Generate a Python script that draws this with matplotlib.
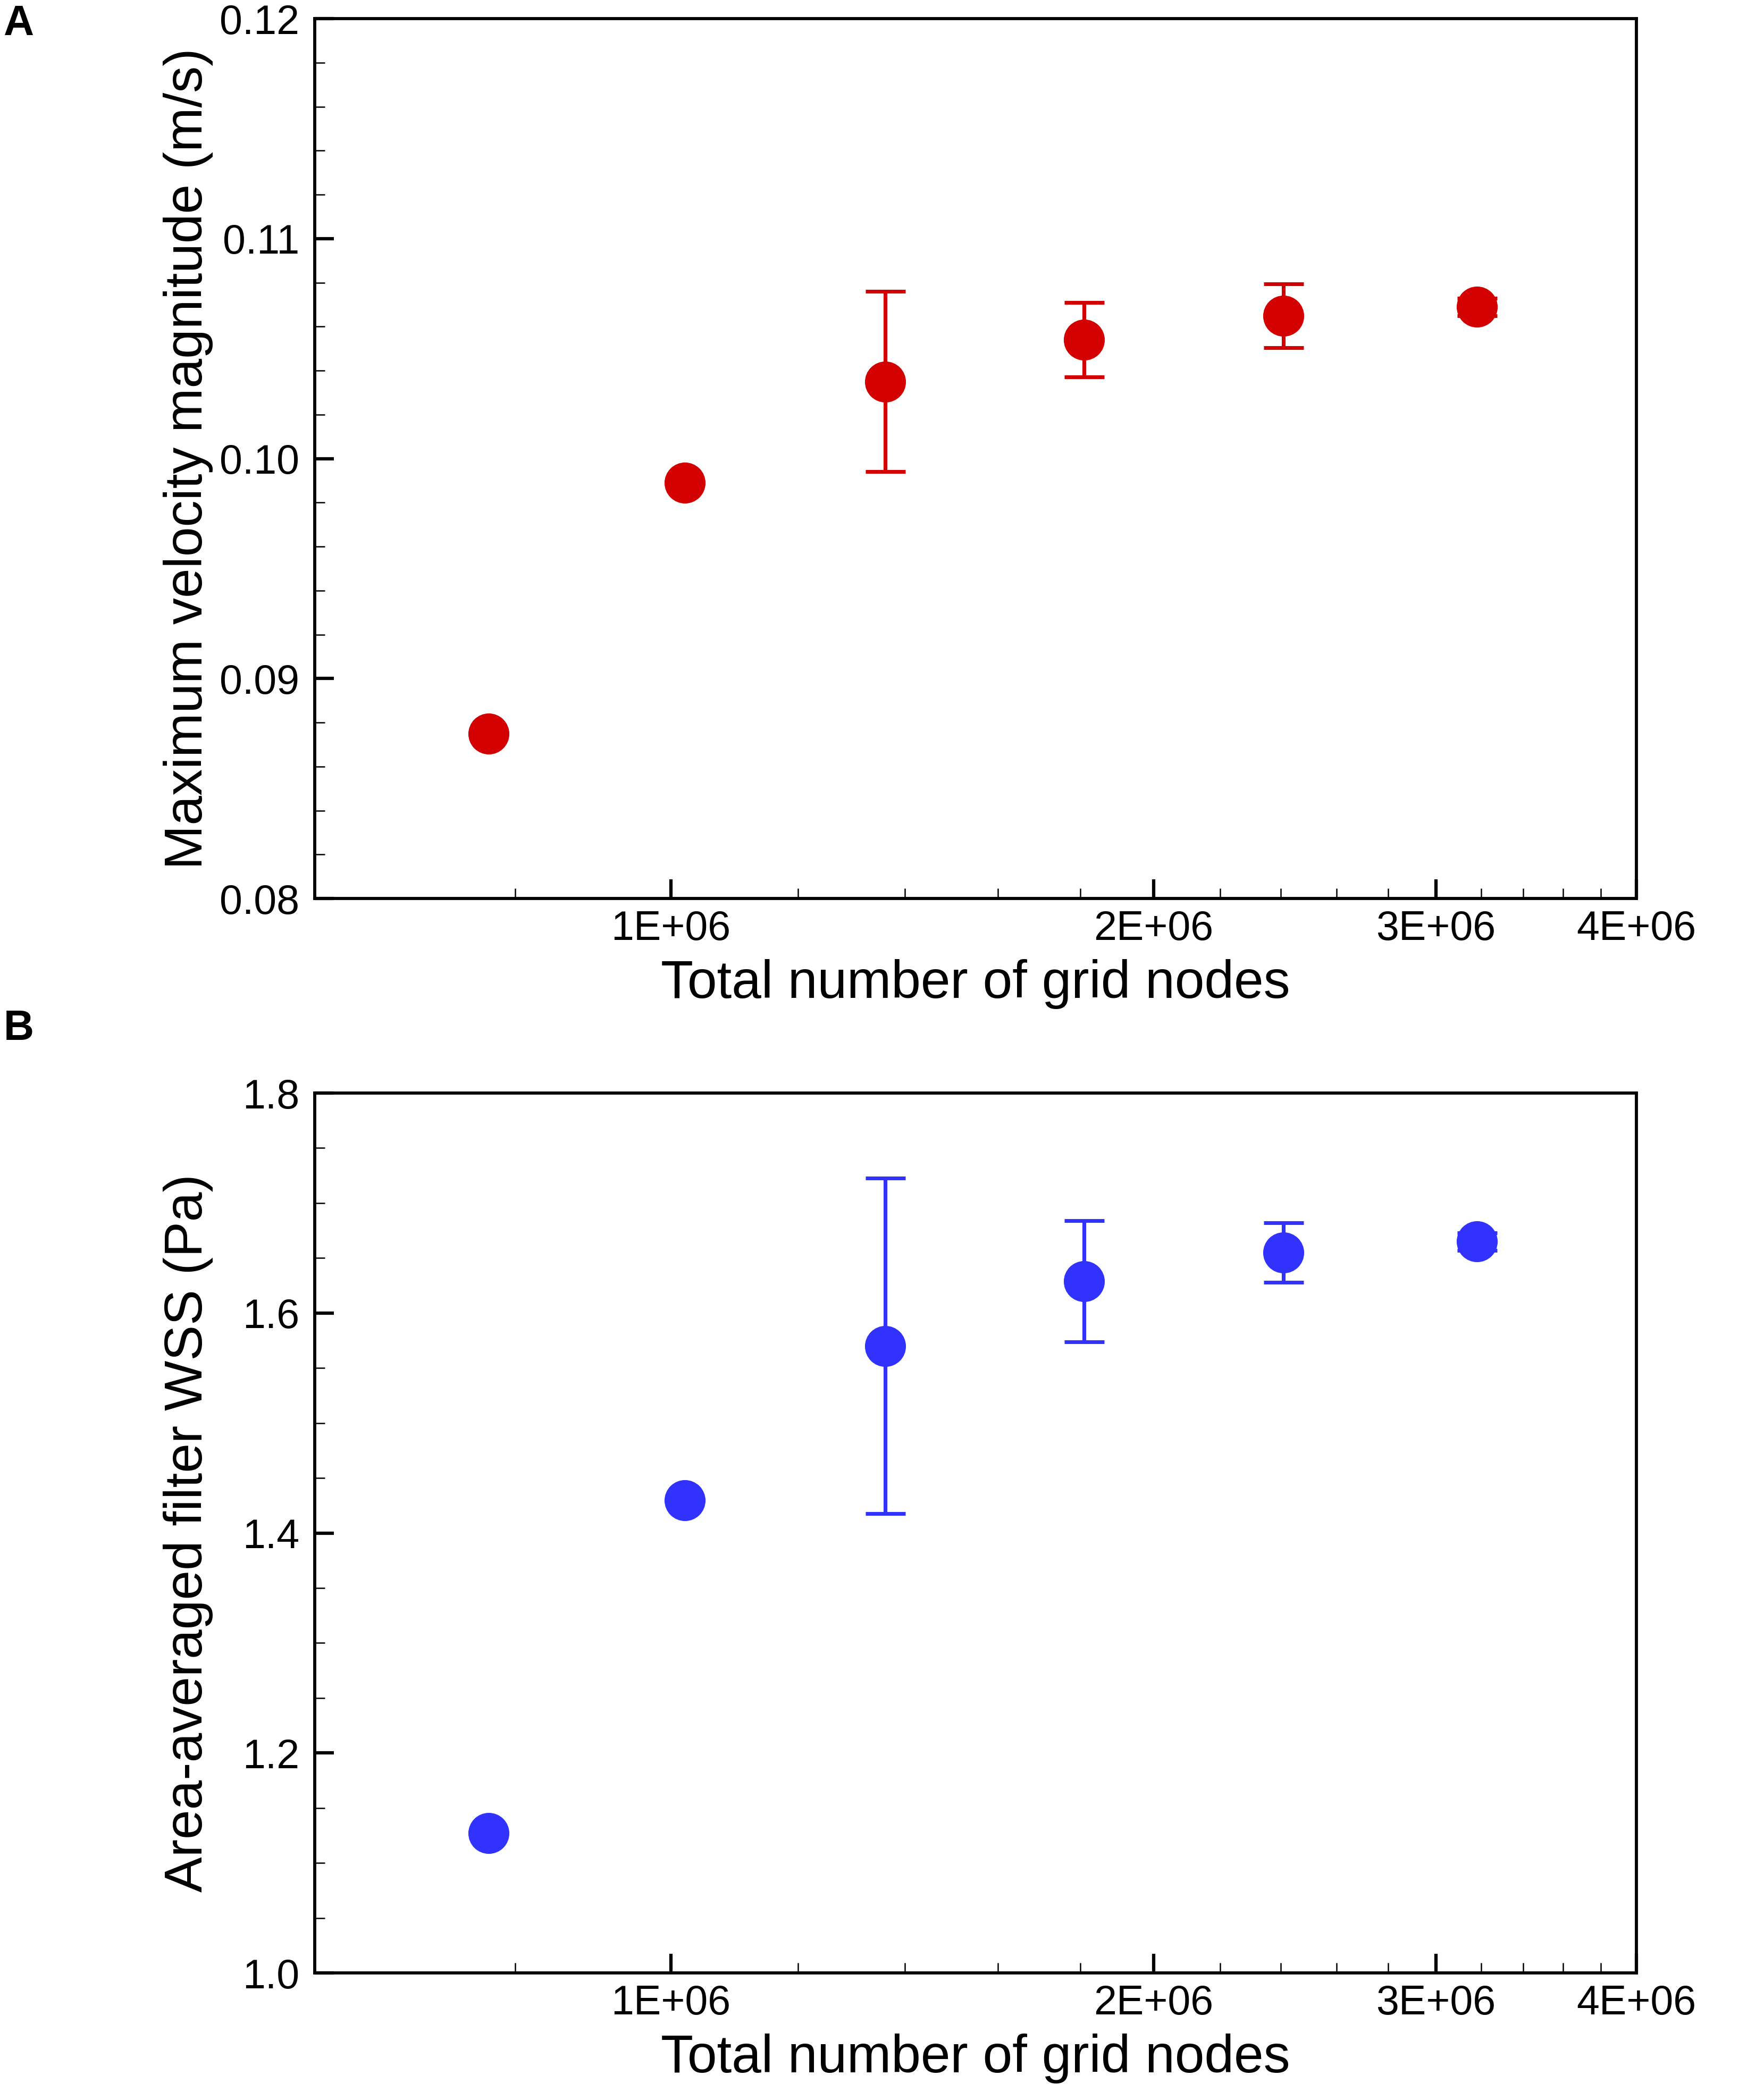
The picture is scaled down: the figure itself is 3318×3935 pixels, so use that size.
import numpy as np
import matplotlib
matplotlib.use('Agg')
import matplotlib.pyplot as plt
from matplotlib.ticker import FixedLocator, MultipleLocator, NullFormatter

plt.rcParams['font.family'] = ['Liberation Sans', 'DejaVu Sans']

# grid sizes (total number of nodes)
nodes = [7.7e5, 1.02e6, 1.36e6, 1.81e6, 2.41e6, 3.18e6]

# panel A: maximum velocity magnitude (m/s)
vel = [0.0875, 0.0989, 0.1035, 0.1054, 0.1065, 0.1069]
vel_err = [0.0, 0.0, 0.0041, 0.0017, 0.00145, 0.0004]

# panel B: area-averaged filter WSS (Pa)
wss = [1.127, 1.430, 1.570, 1.629, 1.655, 1.665]
wss_err = [0.0, 0.0, 0.1525, 0.055, 0.027, 0.008]

x_major = [1e6, 2e6, 3e6, 4e6]
x_major_labels = ['1E+06', '2E+06', '3E+06', '4E+06']

red = '#d20000'
blue = '#3232ff'

fig = plt.figure(figsize=(3318 / 300, 3935 / 300), dpi=300)
ax1 = fig.add_axes([0.1785, 0.5705, 0.7492, 0.4206])
ax2 = fig.add_axes([0.1785, 0.0569, 0.7492, 0.4206])


def style_axis(ax, ylim, ymajor, yminor, yfmt, ylabel):
    ax.set_xscale('log')
    ax.set_xlim(6e5, 4e6)
    ax.set_ylim(*ylim)
    ax.xaxis.set_major_locator(FixedLocator(x_major))
    ax.set_xticklabels(x_major_labels)
    minors = [v for v in np.arange(8e5, 4e6, 2e5) if min(abs(v - m) for m in x_major) > 1e4]
    ax.xaxis.set_minor_locator(FixedLocator(minors))
    ax.xaxis.set_minor_formatter(NullFormatter())
    ax.yaxis.set_major_locator(MultipleLocator(ymajor))
    ax.yaxis.set_minor_locator(MultipleLocator(yminor))
    ax.yaxis.set_major_formatter(plt.FormatStrFormatter(yfmt))
    ax.tick_params(which='both', direction='in', top=False, right=False)
    ax.tick_params(which='major', length=8.6, width=1.5, labelsize=18.5)
    ax.tick_params(axis='x', which='major', pad=5)
    ax.tick_params(axis='y', which='major', pad=7)
    ax.tick_params(which='minor', length=4.6, width=0.6)
    for s in ax.spines.values():
        s.set_linewidth(1.4)
    ax.set_xlabel('Total number of grid nodes', fontsize=24)
    ax.set_ylabel(ylabel, fontsize=24)
    ax.xaxis.set_label_coords(0.5, -0.097)
    ax.xaxis.label.set_va('center')
    ax.yaxis.set_label_coords(-0.096, 0.5)
    ax.yaxis.label.set_va('center')


ax1.errorbar(nodes, vel, yerr=vel_err, fmt='o', color=red, ms=17.5,
             elinewidth=1.7, capsize=9, capthick=1.7, zorder=3)
style_axis(ax1, (0.08, 0.12), 0.01, 0.002, '%.2f', 'Maximum velocity magnitude (m/s)')

ax2.errorbar(nodes, wss, yerr=wss_err, fmt='o', color=blue, ms=17.5,
             elinewidth=1.7, capsize=9, capthick=1.7, zorder=3)
style_axis(ax2, (1.0, 1.8), 0.2, 0.05, '%.1f', 'Area-averaged filter WSS (Pa)')

fig.text(35 / 3318, 1 - 45 / 3935, 'A', ha='center', va='center', fontsize=19, weight='bold')
fig.text(35 / 3318, 1 - 1936 / 3935, 'B', ha='center', va='center', fontsize=19, weight='bold')

fig.savefig('out.png', dpi=300)
